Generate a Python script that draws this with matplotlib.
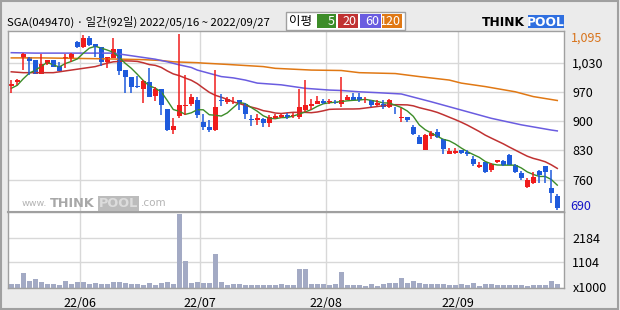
import matplotlib
matplotlib.use('Agg')
import matplotlib.pyplot as plt
import matplotlib.transforms as mtransforms
from matplotlib.patches import Rectangle
import numpy as np
import pandas as pd

plt.rcParams['font.family'] = ['Noto Sans CJK KR', 'DejaVu Sans']

# trading days 2022/05/16 ~ 2022/09/27 (KRX holidays removed)
holidays = ['2022-06-01', '2022-06-06', '2022-08-15', '2022-09-09', '2022-09-12']
dates = pd.bdate_range('2022-05-16', '2022-09-27')
dates = dates[~dates.isin(pd.to_datetime(holidays))]

opens = [975, 984, 1040, 1041, 1035, 1004, 1025, 1035, 1021, 1040,
         1040, 1077, 1064, 1085, 1072, 1064, 1030, 1040, 1060, 1012,
         995, 975, 969, 985, 953, 968, 922, 873, 907, 930,
         934, 942, 893, 882, 873, 942, 938, 942, 943, 935,
         900, 896, 900, 891, 902, 903, 909, 906, 905, 919,
         929, 934, 941, 938, 939, 935, 943, 949, 949, 944,
         942, 932, 935, 926, 921, 901, 903, 882, 857, 828,
         860, 870, 853, 820, 821, 828, 823, 807, 788, 800,
         781, 801, 803, 817, 794, 774, 742, 753, 780, 791,
         740, 722]
highs = [989, 991, 1051, 1042, 1036, 1050, 1036, 1036, 1030, 1050,
         1051, 1078, 1092, 1090, 1073, 1065, 1042, 1085, 1061, 1013,
         996, 999, 988, 1016, 972, 969, 923, 901, 1095, 1000,
         957, 951, 911, 897, 1012, 958, 951, 951, 944, 936,
         909, 910, 901, 909, 912, 912, 914, 914, 968, 989,
         945, 952, 945, 945, 943, 997, 955, 960, 960, 949,
         943, 942, 942, 945, 928, 924, 904, 886, 863, 864,
         872, 876, 854, 832, 832, 829, 828, 814, 800, 801,
         799, 806, 804, 818, 795, 780, 763, 778, 781, 792,
         782, 727]
lows = [960, 978, 1012, 1001, 1003, 1003, 1024, 1019, 1010, 1016,
        1030, 1063, 1063, 1068, 1041, 1022, 1016, 1039, 1001, 960,
        960, 971, 937, 949, 941, 909, 871, 864, 901, 909,
        929, 901, 874, 870, 872, 929, 934, 935, 920, 899,
        884, 886, 882, 882, 899, 901, 899, 901, 899, 916,
        920, 933, 934, 934, 934, 928, 942, 942, 939, 937,
        926, 929, 923, 924, 912, 893, 893, 863, 842, 827,
        853, 855, 819, 818, 818, 818, 814, 791, 787, 776,
        778, 799, 791, 793, 774, 759, 741, 749, 751, 751,
        705, 690]
closes = [981, 989, 1050, 1034, 1004, 1026, 1035, 1020, 1011, 1043,
          1050, 1064, 1085, 1070, 1064, 1030, 1041, 1060, 1011, 995,
          974, 972, 987, 951, 968, 931, 873, 883, 931, 932,
          949, 909, 882, 874, 926, 940, 945, 943, 934, 911,
          896, 902, 891, 905, 906, 909, 903, 908, 928, 931,
          935, 941, 937, 940, 937, 943, 949, 943, 943, 945,
          931, 937, 926, 942, 919, 905, 897, 865, 843, 863,
          868, 859, 830, 826, 826, 822, 818, 796, 794, 778,
          795, 805, 794, 794, 778, 763, 759, 765, 771, 778,
          728, 694]
# volume, x1000 shares
volumes = [144, 144, 638, 288, 363, 245, 144, 144, 100, 288,
           144, 245, 245, 144, 201, 144, 144, 245, 245, 201,
           144, 144, 100, 201, 100, 201, 245, 144, 3203, 1149,
           201, 245, 201, 201, 1455, 245, 100, 144, 144, 100,
           100, 100, 100, 100, 100, 144, 100, 100, 830, 800,
           144, 144, 144, 100, 144, 669, 100, 100, 100, 57,
           144, 57, 144, 201, 201, 406, 201, 288, 201, 144,
           144, 144, 144, 100, 100, 144, 100, 201, 57, 144,
           144, 100, 100, 100, 100, 100, 57, 100, 100, 100,
           288, 144]

# moving averages: first days need older closes
ma5_head = [970, 977, 992, 1005]
ma20_head = [1008, 1007, 1006, 1006, 1006, 1006, 1006, 1006, 1008, 1010,
             1012, 1014, 1016, 1018, 1020, 1024, 1028, 1031, 1032]
ma60_idx = [0, 4, 17, 19, 21, 24, 26, 28, 30, 31, 35, 37, 39, 41, 45, 47,
            49, 53, 55, 58, 61, 65, 70, 75, 80, 85, 90, 91]
ma60_val = [1052, 1051, 1051, 1047, 1043, 1037, 1031, 1024, 1018, 1012, 997,
            994, 989, 982, 978, 974, 970, 966, 965, 962, 960, 957, 939, 920,
            901, 886, 874, 872]
ma120_idx = [0, 5, 15, 22, 25, 27, 31, 32, 36, 42, 44, 50, 55, 58, 64, 68,
             73, 75, 79, 84, 87, 91]
ma120_val = [1040, 1040, 1038, 1036, 1034, 1031, 1029, 1028, 1025, 1020, 1016,
             1012, 1011, 1006, 1004, 997, 989, 982, 974, 962, 951, 942]

ma_periods = ['5', '20', '60', '120']
ma_colors = ['#3c8c28', '#c03232', '#6a5ce0', '#e07814']

price_ticks = [1028, 961, 894, 827, 760]
price_labels = ['1,030', '970', '900', '830', '760']
vol_ticks = [0, 1104, 2184]
vol_labels = ['x1000', '1104', '2184']

UP, DOWN = '#f01c1c', '#1e5adc'

W, H = 620, 310
fig = plt.figure(figsize=(6.2, 3.1), dpi=100)
fig.patch.set_facecolor('#ebebeb')


def fx(x):
    return x / W


def fy(y):
    return 1 - y / H


L, R = 7.5, 564
T, M, B = 31, 212.3, 287.5
ax = fig.add_axes([fx(L), fy(M), fx(R) - fx(L), fy(T) - fy(M)])
axv = fig.add_axes([fx(L), fy(B), fx(R) - fx(L), fy(M) - fy(B)], sharex=ax)

n = len(closes)
x = np.arange(n)
o = np.array(opens, float)
c = np.array(closes, float)
cols = [UP if cc >= oo else DOWN for oo, cc in zip(o, c)]

# month boundaries
month = dates.month
first_days = [i for i in range(1, n) if month[i] != month[i - 1]]
bounds = [i - 0.5 for i in first_days]
blabels = [dates[i].strftime('%y/%m') for i in first_days]

for a in (ax, axv):
    a.set_facecolor('white')
    for s in a.spines.values():
        s.set_color('#a0a0a0')
        s.set_linewidth(1)
    a.set_xticks(bounds)
    a.grid(True, color='#d8d8d8', lw=1)
    a.set_axisbelow(True)
    a.tick_params(length=0)
ax.spines['bottom'].set_linewidth(1.5)

# moving averages
ma5 = pd.Series(c).rolling(5).mean().values
ma5[:4] = ma5_head
ma20 = pd.Series(c).rolling(20).mean().values
ma20[:19] = ma20_head
ax.plot(ma120_idx, ma120_val, color=ma_colors[3], lw=1.1)
ax.plot(ma60_idx, ma60_val, color=ma_colors[2], lw=1.1)
ax.plot(x, ma20, color=ma_colors[1], lw=1.1)
ax.plot(x, ma5, color=ma_colors[0], lw=1.0)

# candles
ax.vlines(x, lows, highs, colors=cols, lw=1.1)
body = np.maximum(np.abs(c - o), 1.3)
ax.bar(x, body, bottom=np.minimum(o, c), width=0.78, color=cols, linewidth=0)

ax.set_xlim(-0.63, 92.12)
ax.set_ylim(684.7, 1101.9)
ax.set_yticks(price_ticks)
ax.set_yticklabels(price_labels)
ax.yaxis.tick_right()
ax.tick_params(axis='y', pad=6, labelsize=9)
ax.tick_params(axis='x', labelbottom=False)

lab_x = 1 + 6.5 / (R - L)
tr = mtransforms.blended_transform_factory(ax.transAxes, ax.transData)
ax.text(lab_x, max(highs), '{:,}'.format(max(highs)), transform=mtransforms.offset_copy(tr, fig, y=-4, units='dots'),
        color='#d8741c', fontsize=9, va='center', clip_on=False)
ax.text(lab_x, min(lows), '{:,}'.format(min(lows)), transform=mtransforms.offset_copy(tr, fig, y=3.5, units='dots'),
        color='#1414c8', fontsize=9, va='center', clip_on=False)

# watermark
wm_y = fy(203.5)
fig.text(fx(22), wm_y, 'www.', color='#b4b4b4', fontsize=6.8, va='center', family='DejaVu Sans')
fig.text(fx(50), wm_y, 'THINK', color='#a8a8a8', fontsize=9.3, fontweight='bold', va='center', family='DejaVu Sans')
fig.text(fx(99), wm_y, 'POOL', color='#dcdcdc', fontsize=9.3, fontweight='bold', va='center', family='DejaVu Sans',
         bbox=dict(boxstyle='square,pad=0.08', fc='#bcbcbc', ec='none'))
fig.text(fx(141), wm_y, '.com', color='#b4b4b4', fontsize=7.5, va='center', family='DejaVu Sans')

# volume
axv.bar(x, volumes, width=0.8, color='#a3aac4', linewidth=0)
axv.set_ylim(0, 3286)
axv.set_yticks(vol_ticks)
axv.set_yticklabels(vol_labels)
axv.yaxis.tick_right()
axv.tick_params(axis='y', pad=6, labelsize=9)
axv.set_xticklabels(blabels)
axv.tick_params(axis='x', pad=7, labelsize=9)

# header
fig.text(fx(7), fy(22), 'SGA(049470) · 일간(92일) 2022/05/16 ~ 2022/09/27', fontsize=8.2, va='center')
fig.add_artist(Rectangle((fx(286), fy(29.5)), fx(405) - fx(286), fy(12.5) - fy(29.5),
                         transform=fig.transFigure, fc='white', ec='#a0a0a0', lw=1))
fig.text(fx(289), fy(21), '이평', fontsize=9, va='center')
box_l = [316.7, 337.5, 359.5, 381.5]
box_r = [336.0, 358.0, 380.5, 402.5]
for p, col, bl, br in zip(ma_periods, ma_colors, box_l, box_r):
    fig.add_artist(Rectangle((fx(bl), fy(28.3)), fx(br) - fx(bl), fy(14.3) - fy(28.3),
                             transform=fig.transFigure, fc=col, ec='none'))
    fig.text(fx(br - 1.5), fy(21.3), p, color='white', fontsize=9, va='center', ha='right')

# logo
fig.text(fx(482), fy(22), 'THINK', fontsize=8.8, fontweight='bold', va='center', family='DejaVu Sans')
fig.add_artist(Rectangle((fx(527.5), fy(28.3)), fx(564) - fx(527.5), fy(15) - fy(28.3),
                         transform=fig.transFigure, fc='#2f6fe0', ec='none'))
fig.text(fx(545.8), fy(22), 'POOL', fontsize=8.8, fontweight='bold', color='white', va='center', ha='center',
         family='DejaVu Sans')

# outer frame
fig.add_artist(Rectangle((fx(1), fy(308.5)), fx(618) - fx(1), fy(1) - fy(308.5),
                         transform=fig.transFigure, fc='none', ec='#a0a0a0', lw=1.5))

fig.savefig('out.png', dpi=100, facecolor=fig.get_facecolor())
